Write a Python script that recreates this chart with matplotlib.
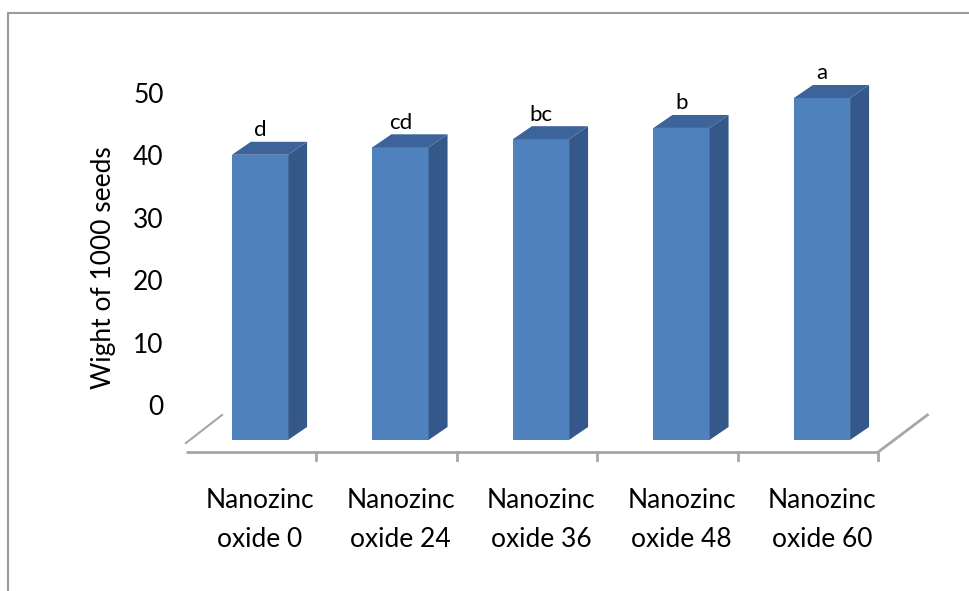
import numpy as np
import matplotlib
matplotlib.use('Agg')
import matplotlib.pyplot as plt
from matplotlib.patches import Polygon, Rectangle

plt.rcParams['font.family'] = ['Lato', 'DejaVu Sans']

categories = ['Nanozinc\noxide 0', 'Nanozinc\noxide 24', 'Nanozinc\noxide 36',
              'Nanozinc\noxide 48', 'Nanozinc\noxide 60']
values = np.array([40.1, 41.3, 42.6, 44.4, 49.2])  # weight of 1000 seeds
letters = ['d', 'cd', 'bc', 'b', 'a']
yticks = [0, 10, 20, 30, 40, 50]

# fake 3d look (excel style)
floor = -5.6        # where the bar fronts start (perspective drop)
dx, dy = 0.135, 2.08  # bar depth offset
width = 0.4
front_col = '#4F81BD'
side_col = '#34588A'
top_col = '#3C649A'
grey = '#A6A6A6'

W, H = 969, 591
fig = plt.figure(figsize=(W/100, H/100), dpi=100)
# axes box in pixels: left 172, right 940, top 60, bottom 470
ax = fig.add_axes([172/W, 1-470/H, (940-172)/W, (470-60)/H])
ax.set_xlim((172-260)/140.5, (940-260)/140.5)
ax.set_ylim((405-470)/6.24, (405-60)/6.24)

x = np.arange(len(values))

# floor of the 3d box
fl_front = -7.53
fl_back = -1.6
x_left, x_right = -0.527, 4.40
ax.plot([x_left, x_right], [fl_front, fl_front], color=grey, lw=2, solid_capstyle='butt')
ax.plot([x_left, x_left+0.257], [fl_front+1.44, fl_back], color=grey, lw=1.5)
ax.plot([x_right, x_right+0.35], [fl_front, fl_back], color=grey, lw=2)
for xt in x + 0.4:
    ax.plot([xt, xt], [fl_front, fl_front-1.25], color=grey, lw=2)

# bars: front face, side face, top face
ax.bar(x, values-floor, bottom=floor, width=width, color=front_col, zorder=3)
for xi, v in zip(x, values):
    r = xi + width/2
    l = xi - width/2
    ax.add_patch(Polygon([(r, floor), (r+dx, floor+dy), (r+dx, v+dy), (r, v)],
                         closed=True, color=side_col, zorder=3, lw=0))
    ax.add_patch(Polygon([(l, v), (r, v), (r+dx, v+dy), (l+dx, v+dy)],
                         closed=True, color=top_col, zorder=3, lw=0))

for xi, v, s in zip(x, values, letters):
    ax.annotate(s, (xi, v+dy), xytext=(0, 4), textcoords='offset points',
                ha='center', va='baseline', fontsize=16)

ax.set_yticks(yticks)
ax.set_yticklabels([str(t) for t in yticks], fontsize=19)
ax.set_xticks(x)
ax.set_xticklabels(categories, fontsize=19, linespacing=1.7)
ax.tick_params(axis='both', length=0)
ax.tick_params(axis='y', pad=6)
ax.tick_params(axis='x', pad=13)
for sp in ax.spines.values():
    sp.set_visible(False)

ax.set_ylabel('Wight of 1000 seeds', fontsize=19, va='center')
ax.yaxis.set_label_coords((103.5-172)/(940-172), (470-268)/(470-60))

# chart area border
fig.patches.append(Rectangle((8/W, -0.1), 1.2, 1.1-13/H, transform=fig.transFigure,
                             fill=False, edgecolor='#9A9A9A', lw=1.5))

fig.savefig('out.png', dpi=100)
